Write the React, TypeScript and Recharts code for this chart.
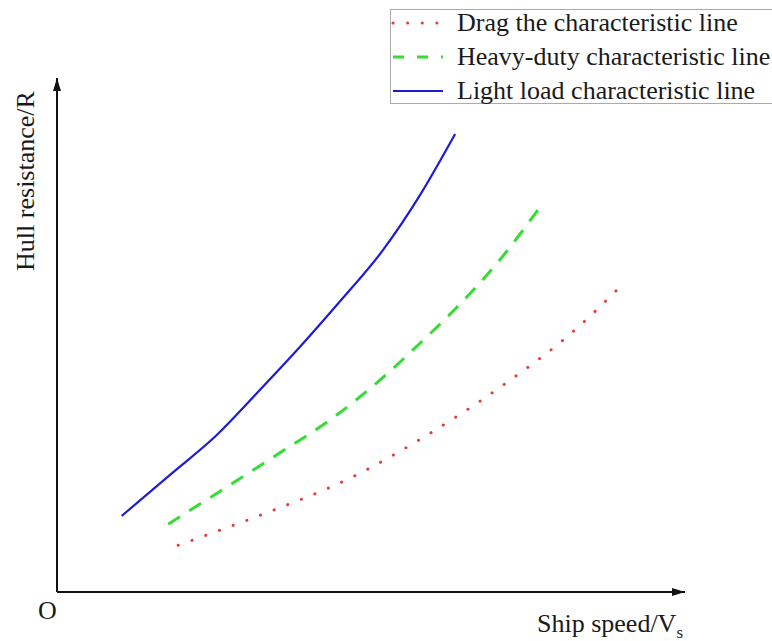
import { Line, LineChart, ReferenceDot, XAxis, YAxis } from "recharts";

const FONT = '"Liberation Serif", "Times New Roman", serif';

// series (x: ship speed, y: hull resistance, arbitrary 0-100 units)
const lightX = [10.3, 18.0, 25.4, 32.3, 38.7, 45.1, 51.9, 57.8, 63.4];
const lightY = [14.8, 22.8, 30.5, 39.3, 47.7, 56.6, 66.5, 77.2, 89.1];
const heavyX = [17.7, 35.0, 43.5, 51.4, 57.8, 63.6, 70.5, 77.4];
const heavyY = [13.2, 26.7, 33.5, 41.2, 48.4, 55.3, 64.6, 75.7];
const dragX = [19.3, 32.9, 46.4, 58.9, 71.1, 82.5, 89.6];
const dragY = [9.1, 15.2, 22.0, 30.5, 40.3, 51.0, 59.3];

const toPoints = (xs: number[], ys: number[]) => xs.map((x, i) => ({ x, y: ys[i] }));

const SERIES = [
  {
    key: "drag",
    name: "Drag the characteristic line",
    data: toPoints(dragX, dragY),
    color: "#e63a3f",
    width: 3,
    dash: "0.1 14.5",
    legendDash: "0.1 14.5",
    cap: "round" as const,
  },
  {
    key: "heavy",
    name: "Heavy-duty characteristic line",
    data: toPoints(heavyX, heavyY),
    color: "#33dd33",
    width: 3,
    dash: "14 11",
    legendDash: "11 13",
    cap: "butt" as const,
  },
  {
    key: "light",
    name: "Light load characteristic line",
    data: toPoints(lightX, lightY),
    color: "#1c1cd4",
    width: 2.2,
    dash: undefined,
    legendDash: undefined,
    cap: "butt" as const,
  },
];

const AXIS_COLOR = "#111";

function LegendBox() {
  return (
    <div
      style={{
        position: "absolute",
        left: 390,
        top: 9,
        width: 420,
        height: 95,
        boxSizing: "border-box",
        border: "1.5px solid #aaa",
        background: "#fff",
        fontFamily: FONT,
        fontSize: 26,
        color: "#1a1a1a",
      }}
    >
      {SERIES.map((s, i) => (
        <div
          key={s.key}
          style={{ display: "flex", alignItems: "center", height: 34, marginTop: i === 0 ? -4 : 0 }}
        >
          <svg width={66} height={10} style={{ flex: "none" }}>
            <line
              x1={2}
              y1={5}
              x2={52}
              y2={5}
              stroke={s.color}
              strokeWidth={s.width}
              strokeDasharray={s.legendDash}
              strokeLinecap={s.cap}
            />
          </svg>
          <span style={{ whiteSpace: "nowrap", lineHeight: "34px" }}>{s.name}</span>
        </div>
      ))}
    </div>
  );
}

const arrowRight = (p: any) => (
  <path d={`M${p.cx - 13},${p.cy - 4} L${p.cx},${p.cy} L${p.cx - 13},${p.cy + 4} Z`} fill={AXIS_COLOR} />
);
const arrowUp = (p: any) => (
  <path d={`M${p.cx - 4},${p.cy + 13} L${p.cx},${p.cy} L${p.cx + 4},${p.cy + 13} Z`} fill={AXIS_COLOR} />
);

export default function App() {
  return (
    <div
      style={{
        position: "absolute",
        left: 0,
        top: 0,
        width: 772,
        height: 641,
        overflow: "hidden",
        background: "#fff",
        fontFamily: FONT,
        color: "#1a1a1a",
      }}
    >
      <LineChart width={772} height={641} margin={{ top: 78, right: 87, bottom: 48, left: 56 }}>
        <XAxis
          type="number"
          dataKey="x"
          domain={[0, 100]}
          height={1}
          tick={false}
          tickLine={false}
          axisLine={{ stroke: AXIS_COLOR, strokeWidth: 2 }}
        />
        <YAxis
          type="number"
          dataKey="y"
          domain={[0, 100]}
          width={1}
          tick={false}
          tickLine={false}
          axisLine={{ stroke: AXIS_COLOR, strokeWidth: 2 }}
        />
        {SERIES.map((s) => (
          <Line
            key={s.key}
            data={s.data}
            dataKey="y"
            name={s.name}
            type="monotone"
            stroke={s.color}
            strokeWidth={s.width}
            strokeDasharray={s.dash}
            strokeLinecap={s.cap}
            dot={false}
            activeDot={false}
            isAnimationActive={false}
          />
        ))}
        <ReferenceDot x={100} y={0} ifOverflow="visible" shape={arrowRight} />
        <ReferenceDot x={0} y={100} ifOverflow="visible" shape={arrowUp} />
      </LineChart>

      <LegendBox />

      <div
        style={{
          position: "absolute",
          left: 26,
          top: 181,
          width: 300,
          fontSize: 26,
          lineHeight: "26px",
          textAlign: "center",
          whiteSpace: "nowrap",
          transform: "translate(-50%, -50%) rotate(-90deg)",
        }}
      >
        Hull resistance/R
      </div>
      <div style={{ position: "absolute", left: 38, top: 598, fontSize: 26, lineHeight: "26px" }}>O</div>
      <div style={{ position: "absolute", left: 537, top: 611, fontSize: 26, lineHeight: "26px", whiteSpace: "nowrap" }}>
        Ship speed/V<sub style={{ fontSize: 17, verticalAlign: -6 }}>s</sub>
      </div>
    </div>
  );
}
